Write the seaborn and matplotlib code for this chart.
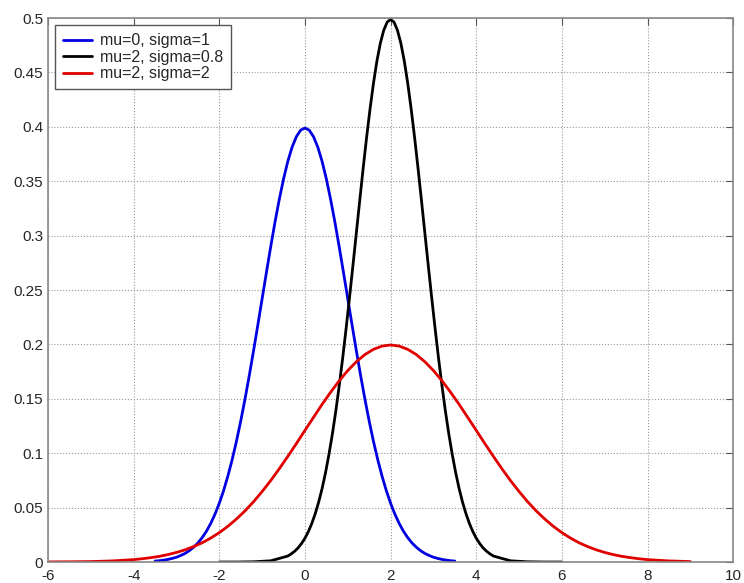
import matplotlib
matplotlib.use("Agg")
import matplotlib.pyplot as plt
import seaborn as sns

# curve samples
blue_x = [-3.5, -3.4, -3.3, -3.2, -3.1, -3.0, -2.9, -2.8, -2.7, -2.6, -2.5, -2.4, -2.3, -2.2, -2.1, -2.0,
          -1.9, -1.8, -1.7, -1.6, -1.5, -1.4, -1.3, -1.2, -1.1, -1.0, -0.9, -0.8, -0.7, -0.6, -0.5, -0.4,
          -0.3, -0.2, -0.1, 0.0, 0.1, 0.2, 0.3, 0.4, 0.5, 0.6, 0.7, 0.8, 0.9, 1.0, 1.1, 1.2, 1.3, 1.4, 1.5,
          1.6, 1.7, 1.8, 1.9, 2.0, 2.1, 2.2, 2.3, 2.4, 2.5, 2.6, 2.7, 2.8, 2.9, 3.0, 3.1, 3.2, 3.3, 3.4, 3.5]
blue_y = [0.0009, 0.0012, 0.0017, 0.0024, 0.0033, 0.0044, 0.0060, 0.0079, 0.0104, 0.0136, 0.0175, 0.0224,
          0.0283, 0.0355, 0.0440, 0.0540, 0.0656, 0.0790, 0.0940, 0.1109, 0.1295, 0.1497, 0.1714, 0.1942,
          0.2179, 0.2420, 0.2661, 0.2897, 0.3123, 0.3332, 0.3521, 0.3683, 0.3814, 0.3910, 0.3970, 0.3989,
          0.3970, 0.3910, 0.3814, 0.3683, 0.3521, 0.3332, 0.3123, 0.2897, 0.2661, 0.2420, 0.2179, 0.1942,
          0.1714, 0.1497, 0.1295, 0.1109, 0.0940, 0.0790, 0.0656, 0.0540, 0.0440, 0.0355, 0.0283, 0.0224,
          0.0175, 0.0136, 0.0104, 0.0079, 0.0060, 0.0044, 0.0033, 0.0024, 0.0017, 0.0012, 0.0009]

black_x = [-2.0, -1.6, -1.2, -0.8, -0.4, -0.32, -0.24, -0.16, -0.08, 0.0, 0.08, 0.16, 0.24, 0.32, 0.40,
           0.48, 0.56, 0.64, 0.72, 0.80, 0.88, 0.96, 1.04, 1.12, 1.20, 1.28, 1.36, 1.44, 1.52, 1.60, 1.68,
           1.76, 1.84, 1.92, 2.00, 2.08, 2.16, 2.24, 2.32, 2.40, 2.48, 2.56, 2.64, 2.72, 2.80, 2.88, 2.96,
           3.04, 3.12, 3.20, 3.28, 3.36, 3.44, 3.52, 3.60, 3.68, 3.76, 3.84, 3.92, 4.00, 4.08, 4.16, 4.24,
           4.32, 4.40, 4.8, 5.2, 5.6, 6.0]
black_y = [0.0, 0.0, 0.0002, 0.0011, 0.0055, 0.0075, 0.0099, 0.0130, 0.0170, 0.0219, 0.0280, 0.0354,
           0.0444, 0.0550, 0.0675, 0.0820, 0.0988, 0.1175, 0.1386, 0.1619, 0.1871, 0.2143, 0.2428, 0.2724,
           0.3025, 0.3326, 0.3621, 0.3904, 0.4165, 0.4401, 0.4604, 0.4768, 0.4888, 0.4963, 0.4987, 0.4963,
           0.4888, 0.4768, 0.4604, 0.4401, 0.4165, 0.3904, 0.3621, 0.3326, 0.3025, 0.2724, 0.2428, 0.2143,
           0.1871, 0.1619, 0.1386, 0.1175, 0.0988, 0.0820, 0.0675, 0.0550, 0.0444, 0.0354, 0.0280, 0.0219,
           0.0170, 0.0130, 0.0099, 0.0075, 0.0055, 0.0011, 0.0002, 0.0, 0.0]

red_x = [-6.0, -5.5, -5.0, -4.5, -4.0, -3.8, -3.6, -3.4, -3.2, -3.0, -2.8, -2.6, -2.4, -2.2, -2.0, -1.8,
         -1.6, -1.4, -1.2, -1.0, -0.8, -0.6, -0.4, -0.2, 0.0, 0.2, 0.4, 0.6, 0.8, 1.0, 1.2, 1.4, 1.6, 1.8,
         2.0, 2.2, 2.4, 2.6, 2.8, 3.0, 3.2, 3.4, 3.6, 3.8, 4.0, 4.2, 4.4, 4.6, 4.8, 5.0, 5.2, 5.4, 5.6, 5.8,
         6.0, 6.2, 6.4, 6.6, 6.8, 7.0, 7.2, 7.4, 7.6, 7.8, 8.0, 8.5, 9.0]
red_y = [0.0001, 0.0002, 0.0004, 0.0010, 0.0022, 0.0030, 0.0040, 0.0052, 0.0068, 0.0088, 0.0112, 0.0142,
         0.0177, 0.0220, 0.0270, 0.0328, 0.0395, 0.0470, 0.0554, 0.0648, 0.0748, 0.0857, 0.0971, 0.1089,
         0.1210, 0.1330, 0.1449, 0.1561, 0.1666, 0.1760, 0.1841, 0.1907, 0.1955, 0.1985, 0.1995, 0.1985,
         0.1955, 0.1907, 0.1841, 0.1760, 0.1666, 0.1561, 0.1449, 0.1330, 0.1210, 0.1089, 0.0971, 0.0857,
         0.0748, 0.0648, 0.0554, 0.0470, 0.0395, 0.0328, 0.0270, 0.0220, 0.0177, 0.0142, 0.0112, 0.0088,
         0.0068, 0.0052, 0.0040, 0.0030, 0.0022, 0.0010, 0.0004]

x_ticks = [-6, -4, -2, 0, 2, 4, 6, 8, 10]
y_ticks = [0, 0.05, 0.1, 0.15, 0.2, 0.25, 0.3, 0.35, 0.4, 0.45, 0.5]
y_labels = ["0", "0.05", "0.1", "0.15", "0.2", "0.25", "0.3", "0.35", "0.4", "0.45", "0.5"]

sns.set_style("white")
plt.rcParams["font.family"] = ["Liberation Sans", "DejaVu Sans"]
plt.rcParams["axes.unicode_minus"] = False

fig = plt.figure(figsize=(7.44, 5.83), dpi=100)
ax = fig.add_axes([0.0645, 0.036, 0.921, 0.933])

sns.lineplot(x=blue_x, y=blue_y, color="#0000e0", lw=2, label="mu=0, sigma=1", ax=ax)
sns.lineplot(x=black_x, y=black_y, color="black", lw=2, label="mu=2, sigma=0.8", ax=ax)
sns.lineplot(x=red_x, y=red_y, color="#e00000", lw=2, label="mu=2, sigma=2", ax=ax)

ax.set_xlim(-6, 10)
ax.set_ylim(0, 0.5)
ax.set_xticks(x_ticks)
ax.set_yticks(y_ticks)
ax.set_yticklabels(y_labels)
ax.grid(True, linestyle=":", color="#999999", lw=0.8)
ax.tick_params(direction="in", length=5, labelsize=11, top=True, right=True, color="#555555")
ax.tick_params(axis="x", pad=5)
for s in ax.spines.values():
    s.set_color("#888888")
    s.set_linewidth(1.2)

leg = ax.legend(loc="upper left", fancybox=False, edgecolor="#555555", framealpha=1,
                fontsize=11.5, handlelength=1.8, handletextpad=0.5, borderaxespad=0.45,
                labelspacing=0.1, borderpad=0.5)
leg.get_frame().set_linewidth(1)

fig.savefig("out.png", dpi=100)
